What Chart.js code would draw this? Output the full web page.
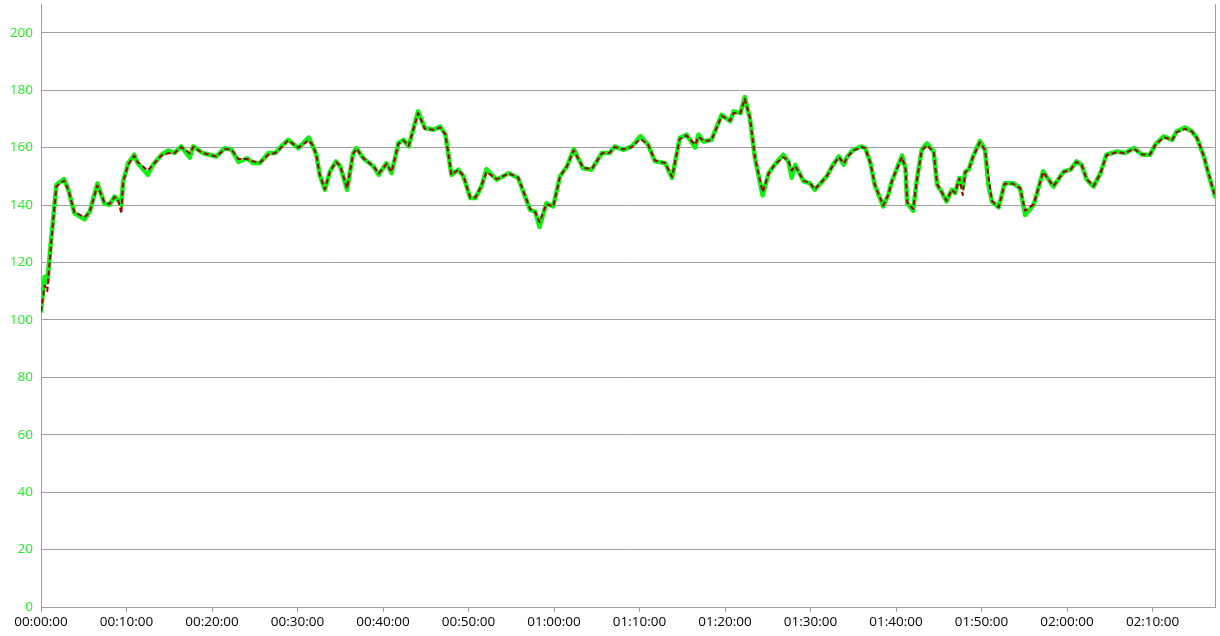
<!DOCTYPE html>
<html>
<head>
<meta charset="utf-8">
<script src="https://cdn.jsdelivr.net/npm/chart.js@4.4.0/dist/chart.umd.min.js"></script>
<style>
  html, body { margin: 0; padding: 0; background: #fff; }
  #chart { display: block; }
</style>
</head>
<body>
<canvas id="chart" width="1220" height="636"></canvas>
<script>
// elapsed time in minutes
const minutes = [
  0, 0.43, 0.74, 1.2, 1.8, 2.7, 3.2, 3.9, 5.1, 5.7, 6.6, 7.4, 8.0, 8.6, 9.0, 9.4, 9.6,
  10.2, 10.9, 11.3, 12.5, 13.1, 14.1, 14.9, 15.6, 16.4, 17.4, 17.8, 18.9, 20.5, 21.5, 22.3,
  23.1, 24.1, 24.8, 25.6, 26.6, 27.4, 28.1, 28.9, 30.1, 31.3, 31.8, 32.2, 32.6, 33.2, 33.8,
  34.5, 35.0, 35.8, 36.5, 36.9, 37.7, 38.9, 39.5, 40.4, 41.0, 41.8, 42.4, 43.0, 44.1, 44.9,
  45.9, 46.7, 47.3, 47.6, 48.0, 48.8, 49.4, 50.2, 50.8, 51.5, 52.1, 53.3, 54.7, 55.8, 57.2,
  57.8, 58.3, 59.1, 59.9, 60.7, 61.5, 62.3, 63.4, 64.4, 65.6, 66.5, 67.1, 68.1, 69.1, 70.1,
  71.0, 71.8, 73.0, 73.8, 74.7, 75.5, 76.5, 76.9, 77.5, 78.4, 79.6, 80.6, 81.0, 81.8, 82.3,
  82.9, 83.5, 84.4, 85.1, 85.8, 86.8, 87.4, 87.8, 88.2, 89.2, 89.9, 90.5, 91.9, 92.5, 93.3,
  93.9, 94.3, 95.0, 96.0, 96.4, 97.0, 97.5, 98.5, 99.1, 99.5, 100.1, 100.7, 101.1, 101.3,
  102.0, 102.4, 103.0, 103.6, 104.4, 104.8, 105.3, 105.9, 106.5, 106.9, 107.4, 107.8, 108.1,
  108.5, 109.0, 109.8, 110.4, 110.8, 111.2, 112.0, 112.7, 113.7, 114.5, 115.1, 116.1, 117.2,
  118.4, 119.6, 120.4, 121.1, 121.7, 122.3, 123.1, 123.9, 124.6, 125.8, 126.8, 127.8, 128.8,
  129.7, 130.3, 131.3, 132.3, 132.8, 133.8, 134.6, 135.2, 136.0, 136.3, 136.9, 137.3
];

// heart rate, raw (green)
const hrRaw = [
  103, 115, 113, 128.5, 147, 149, 145.3, 137.2, 135, 137.7, 147.5, 140.6, 140, 143, 141.8, 140, 148.2,
  154.6, 157.5, 154.6, 150.5, 154, 157.5, 159, 158.1, 160.4, 156.5, 160.4, 158.1, 156.9, 159.8, 159.2,
  155, 156.3, 154.6, 154.6, 158.1, 158.1, 160.4, 162.7, 159.8, 163.5, 160.4, 157.5, 150.5, 145.3, 151.7,
  155.2, 153.4, 145.3, 158.1, 159.8, 156.3, 153.4, 150.5, 154.6, 151.1, 161.6, 162.7, 160.4, 172.6, 166.8,
  166.2, 167.3, 164.5, 158.6, 150.5, 152.3, 150, 142.4, 142.4, 146.4, 152.5, 148.8, 151.1, 149.4, 138.3,
  137.7, 132.3, 140.6, 139.5, 150, 153.4, 159.5, 152.8, 152.3, 158.1, 158.1, 160.4, 159.2, 160.4, 164,
  161, 155.2, 154.6, 149.4, 163.3, 164.5, 160, 164.5, 162.1, 162.7, 171.4, 169.2, 172.6, 172, 177.6,
  170.3, 156.3, 143.3, 151.1, 154, 157.5, 155.2, 149.5, 154, 148.2, 147.6, 145.3, 150, 153.4, 156.9,
  154, 156.9, 159.2, 160.4, 159.8, 154.6, 147, 139.5, 143.6, 148.2, 152.8, 157.2, 152.8, 140.6,
  138, 148.2, 159.2, 161.5, 158.6, 147, 144.7, 141.2, 145.3, 144.1, 149.4, 146, 151.7,
  152.3, 156.9, 162.3, 159.2, 147, 141.2, 139.2, 147.6, 147.6, 145.9, 136.5, 140.1, 151.7,
  146.4, 151.7, 152.3, 155.2, 154, 148.8, 146.4, 151.1, 157.5, 158.6, 158.1, 159.8, 157.5,
  157.5, 161, 163.9, 162.7, 165.6, 167, 165.6, 163.3, 156.9, 153.4, 147, 143
];

// heart rate, filtered (red dashed)
const hrFiltered = [
  103, 112, 110, 127, 146.5, 148.5, 145.3, 137.5, 135.8, 137.5, 146.8, 141, 140.3, 142.8, 142, 137, 148,
  154, 157.2, 155, 152, 154, 157.3, 158, 158.1, 160.2, 158, 160.2, 158.1, 156.9, 159.5, 159.2,
  156, 156, 155.2, 154.8, 157.5, 158.1, 160, 162.5, 160, 162.5, 160.8, 157.5, 150.5, 145.5, 151.7,
  155, 153.6, 145.8, 157.8, 159.6, 156.3, 153.4, 151, 154.3, 151.5, 161.3, 162.5, 160.6, 172, 166.5,
  166.2, 167, 164.5, 158.6, 150.5, 152.3, 150.2, 142.6, 142.6, 146.6, 151.5, 149, 151, 149.6, 138.6,
  137.5, 134, 140.3, 139.5, 150, 153.4, 159, 153, 152.5, 158, 158.2, 160.2, 159.4, 160.2, 163,
  161, 155.5, 154.6, 149.8, 163, 164.2, 161, 163.8, 162.3, 162.5, 171, 169.4, 172, 172, 177,
  170.5, 156.5, 144.5, 151, 154, 156.7, 155.5, 152, 153.6, 148.4, 147.8, 145.5, 150, 153.2, 156.7,
  154.5, 156.7, 159, 160.2, 159.8, 154.6, 147.3, 139.8, 143.6, 148.2, 152.6, 156.7, 152.6, 141,
  138.6, 148, 159, 160.8, 158.5, 147.3, 144.7, 141.5, 145.3, 144.3, 149.2, 143.5, 151.5,
  152.3, 156.7, 161.8, 159.2, 150, 141.5, 139.2, 147.4, 147.4, 145.9, 138, 140.3, 151.5,
  146.6, 151.5, 152.3, 155, 154, 149, 146.6, 151, 157.3, 158.4, 158.1, 159.6, 157.6,
  157.6, 160.8, 163.6, 162.7, 165.3, 166.5, 165.6, 163.3, 157, 153.6, 147.3, 143
];

const yMax = 210;
const yStep = 20;
const xStep = 10;

function fmtTime(m) {
  const total = Math.round(m * 60);
  const h = Math.floor(total / 3600);
  const mm = Math.floor((total % 3600) / 60);
  const ss = total % 60;
  const p = (n) => String(n).padStart(2, "0");
  return `${p(h)}:${p(mm)}:${p(ss)}`;
}

const toPoints = (arr) => arr.map((v, i) => ({ x: minutes[i], y: v }));

// right-hand border of the plot area
const frame = {
  id: "frame",
  afterDraw(chart) {
    const { ctx, chartArea } = chart;
    ctx.save();
    ctx.strokeStyle = "#a0a0a0";
    ctx.lineWidth = 1;
    ctx.beginPath();
    ctx.moveTo(Math.round(chartArea.right) + 0.5, chartArea.top);
    ctx.lineTo(Math.round(chartArea.right) + 0.5, chartArea.bottom);
    ctx.stroke();
    ctx.restore();
  }
};

new Chart(document.getElementById("chart").getContext("2d"), {
  type: "line",
  data: {
    datasets: [
      {
        label: "raw",
        data: toPoints(hrRaw),
        borderColor: "#11f011",
        borderWidth: 4.5,
        borderJoinStyle: "round",
        borderCapStyle: "round",
        pointRadius: 0,
        tension: 0,
        order: 2
      },
      {
        label: "filtered",
        data: toPoints(hrFiltered),
        borderColor: "#a00000",
        borderWidth: 2,
        borderDash: [5, 3],
        borderJoinStyle: "round",
        pointRadius: 0,
        tension: 0,
        order: 1
      }
    ]
  },
  options: {
    responsive: false,
    animation: false,
    layout: { padding: { top: 4, right: 5, left: 0, bottom: 0 } },
    plugins: { legend: { display: false }, tooltip: { enabled: false } },
    scales: {
      x: {
        type: "linear",
        min: 0,
        max: minutes[minutes.length - 1],
        afterFit: (s) => { s.height = 29; s.paddingLeft = 0; s.paddingRight = 0; },
        ticks: {
          stepSize: xStep,
          includeBounds: false,
          color: "#000",
          padding: 2,
          maxRotation: 0,
          autoSkip: false,
          font: { family: "'Open Sans'", size: 13.5 },
          callback: (v) => fmtTime(v)
        },
        grid: { drawOnChartArea: false, color: "#a0a0a0", tickLength: 5 },
        border: { color: "#a0a0a0" }
      },
      y: {
        min: 0,
        max: yMax,
        afterFit: (s) => { s.width = 41; s.paddingTop = 0; s.paddingBottom = 0; },
        ticks: {
          stepSize: yStep,
          includeBounds: false,
          color: "#1af51a",
          padding: 8,
          font: { family: "'Open Sans'", size: 13.5 }
        },
        grid: { color: "#a0a0a0", drawTicks: false },
        border: { color: "#a0a0a0" }
      }
    }
  },
  plugins: [frame]
});
</script>
</body>
</html>
